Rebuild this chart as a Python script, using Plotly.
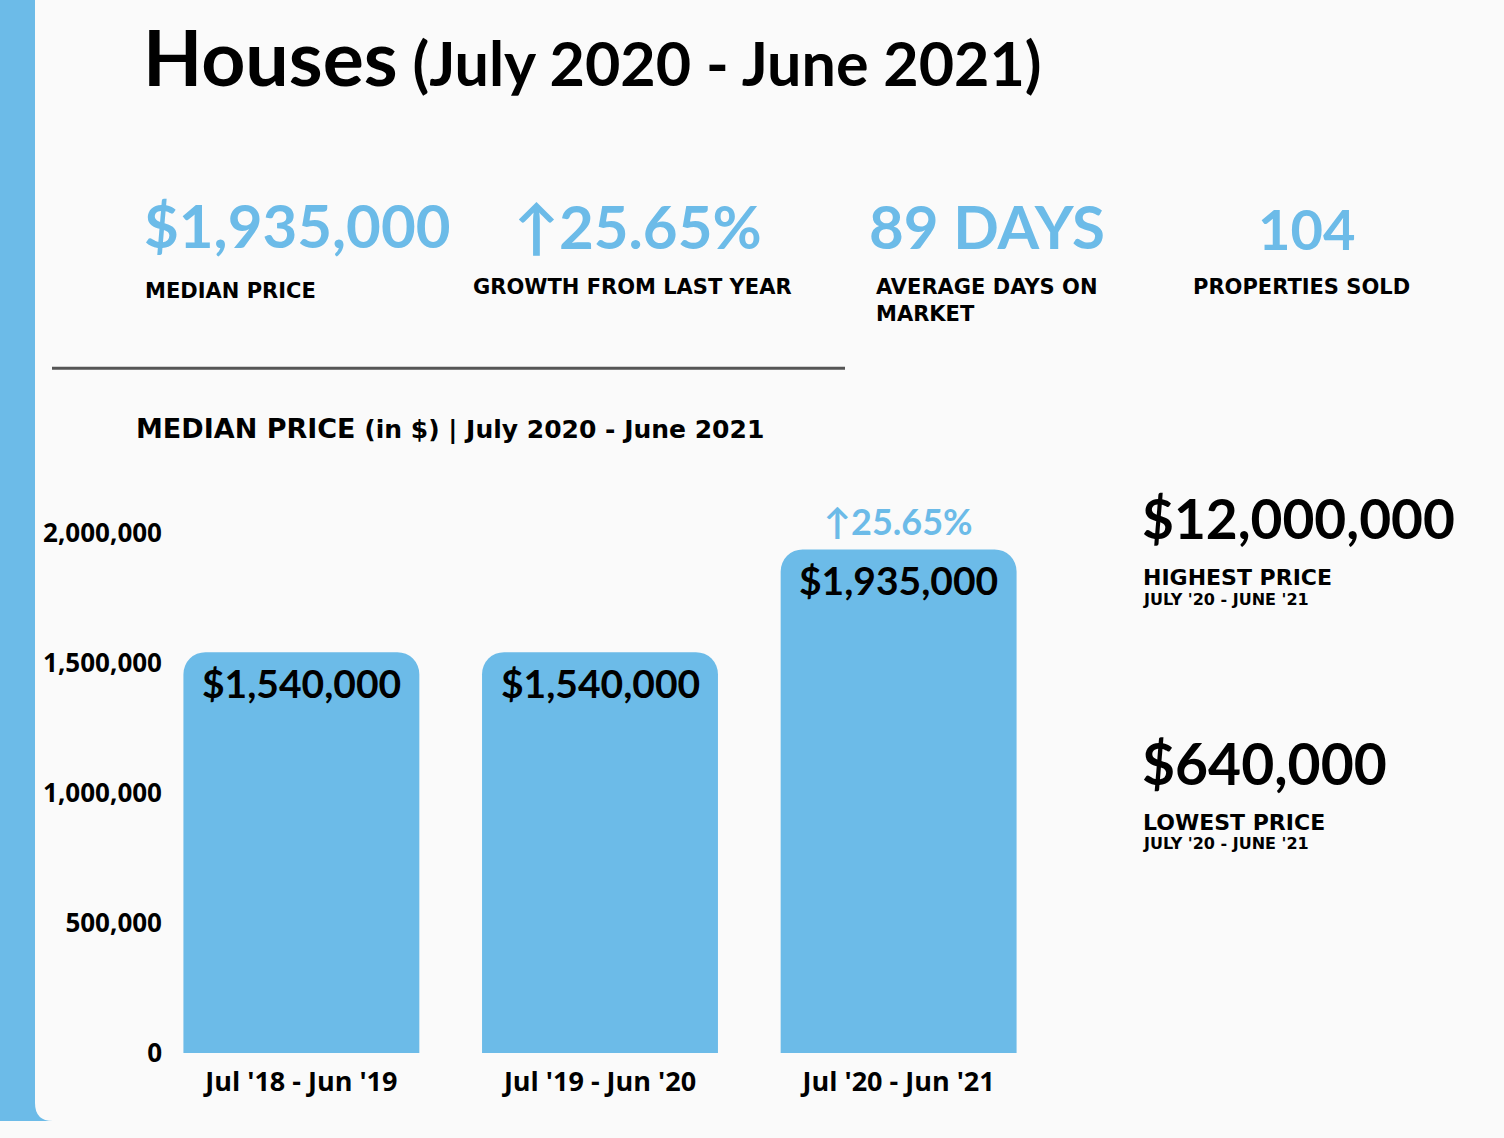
import plotly.graph_objects as go

W = 1504
VH = 1120  # visible page height of the viewer

categories = ["Jul '18 - Jun '19", "Jul '19 - Jun '20", "Jul '20 - Jun '21"]
median_prices = [1540000, 1540000, 1935000]
y_tickvals = [0, 500000, 1000000, 1500000, 2000000]
y_ticktext = ["0", "500,000", "1,000,000", "1,500,000", "2,000,000"]
growth_label = "↑25.65%"

stat_values = ["$1,935,000", "↑25.65%", "89 DAYS", "104"]
stat_labels = ["MEDIAN PRICE", "GROWTH FROM LAST YEAR", "AVERAGE DAYS ON<br>MARKET", "PROPERTIES SOLD"]
extreme_values = ["$12,000,000", "$640,000"]
extreme_labels = ["HIGHEST PRICE", "LOWEST PRICE"]
extreme_period = "JULY '20 - JUNE '21"

BLUE = "#6cbbe8"
BG = "#fafafa"
BIG_FONT = "Lato"
LABEL_FONT = "DejaVu Sans"
AXIS_FONT = "Open Sans"


def px(x):
    return x / W


def py(y):
    return 1 - y / VH


fig = go.Figure()
fig.add_trace(go.Bar(
    x=categories, y=median_prices,
    marker=dict(color=BLUE, line=dict(width=0)),
    hoverinfo="skip",
))

y_top = 2200000
plot_left, plot_right = 167, 1033
y0_px = 1052
px_per_unit = 260 / 1e6
top_px = y0_px - y_top * px_per_unit

annotations = []

# value labels inside bars
for c, v in zip(categories, median_prices):
    annotations.append(dict(
        x=c, y=v, xref="x", yref="y", text=f"<b>${v:,.0f}</b>",
        showarrow=False, yanchor="top", yshift=-6,
        font=dict(family=BIG_FONT, size=39, color="#000000"),
    ))
# growth label above last bar
annotations.append(dict(
    x=categories[-1], y=median_prices[-1], xref="x", yref="y",
    text=f"<b>{growth_label}</b>", showarrow=False, yanchor="bottom", yshift=4,
    font=dict(family=BIG_FONT, size=36, color=BLUE),
))

# Title
annotations.append(dict(
    x=px(141), y=py(56), xref="paper", yref="paper", xanchor="left", yanchor="middle",
    text="<b>Houses</b><span style='font-size:61px'><b> (July 2020 - June 2021)</b></span>",
    showarrow=False, font=dict(family=BIG_FONT, size=77, color="#000000", weight=900),
))

# Stats row
stat_pos = [(142, 225, 143, 291), (512, 226, 471, 287), (867, 226, 874, 300), (1256, 228, 1191, 287)]
stat_sizes = [60, 60, 60, 56]
for (vx, vy, lx, ly), val, lab, s in zip(stat_pos, stat_values, stat_labels, stat_sizes):
    annotations.append(dict(
        x=px(vx), y=py(vy), xref="paper", yref="paper", xanchor="left", yanchor="middle",
        text=f"<b>{val}</b>", showarrow=False,
        font=dict(family=BIG_FONT, size=s, color=BLUE),
    ))
    annotations.append(dict(
        x=px(lx), y=py(ly), xref="paper", yref="paper", xanchor="left", yanchor="middle",
        text=f"<b>{lab}</b>", showarrow=False, align="left",
        font=dict(family=LABEL_FONT, size=21, color="#000000"),
    ))

# Chart subtitle
annotations.append(dict(
    x=px(134), y=py(428), xref="paper", yref="paper", xanchor="left", yanchor="middle",
    text="<b>MEDIAN PRICE</b><span style='font-size:25px'><b> (in $) | July 2020 - June 2021</b></span>",
    showarrow=False, font=dict(family=LABEL_FONT, size=27, color="#000000"),
))

# Right-hand extremes
for val, lab, vy, ly, py2, s in zip(extreme_values, extreme_labels, [518, 762], [577, 822], [599, 843], [55, 57]):
    annotations.append(dict(
        x=px(1140), y=py(vy), xref="paper", yref="paper", xanchor="left", yanchor="middle",
        text=f"<b>{val}</b>", showarrow=False,
        font=dict(family=BIG_FONT, size=s, color="#000000"),
    ))
    annotations.append(dict(
        x=px(1141), y=py(ly), xref="paper", yref="paper", xanchor="left", yanchor="middle",
        text=f"<b>{lab}</b>", showarrow=False,
        font=dict(family=LABEL_FONT, size=22, color="#000000"),
    ))
    annotations.append(dict(
        x=px(1141), y=py(py2), xref="paper", yref="paper", xanchor="left", yanchor="middle",
        text=f"<b>{extreme_period}</b>", showarrow=False,
        font=dict(family=LABEL_FONT, size=16, color="#000000"),
    ))

shapes = [
    # left blue strip with rounded card corner
    dict(type="path", xref="paper", yref="paper",
         path=f"M 0 1 L {px(35)} 1 L {px(35)} {py(VH - 18)} Q {px(35)} 0 {px(53)} 0 L 0 0 Z",
         fillcolor=BLUE, line=dict(width=0), layer="below"),
    # separator line
    dict(type="line", xref="paper", yref="paper", x0=px(52), x1=px(845), y0=py(368), y1=py(368),
         line=dict(color="#555555", width=3)),
]

fig.update_layout(
    autosize=True,
    margin=dict(l=0, r=0, t=0, b=0),
    paper_bgcolor=BG, plot_bgcolor=BG,
    showlegend=False,
    bargap=0.21,
    barcornerradius=22,
    annotations=annotations,
    shapes=shapes,
    xaxis=dict(
        domain=[px(plot_left), px(plot_right)], range=[-0.45, 2.45],
        showgrid=False, zeroline=False, showline=False, ticks="",
        tickfont=dict(family=AXIS_FONT, size=27, color="#000000", weight="bold"),
        ticklabelstandoff=10,
    ),
    yaxis=dict(
        domain=[py(y0_px), py(top_px)], range=[0, y_top],
        tickvals=y_tickvals, ticktext=y_ticktext,
        showgrid=False, zeroline=False, showline=False, ticks="",
        tickfont=dict(family=AXIS_FONT, size=26, color="#000000", weight="bold"),
        ticklabelstandoff=4,
    ),
)

post = (
    "document.documentElement.style.margin='0';document.body.style.margin='0';"
    "document.body.style.overflow='hidden';"
    "Plotly.Plots.resize(document.getElementById('{plot_id}'));"
)
fig.write_html(
    "out.html",
    default_width="100vw", default_height="100vh",
    config={"displayModeBar": False, "responsive": True},
    post_script=post,
)
